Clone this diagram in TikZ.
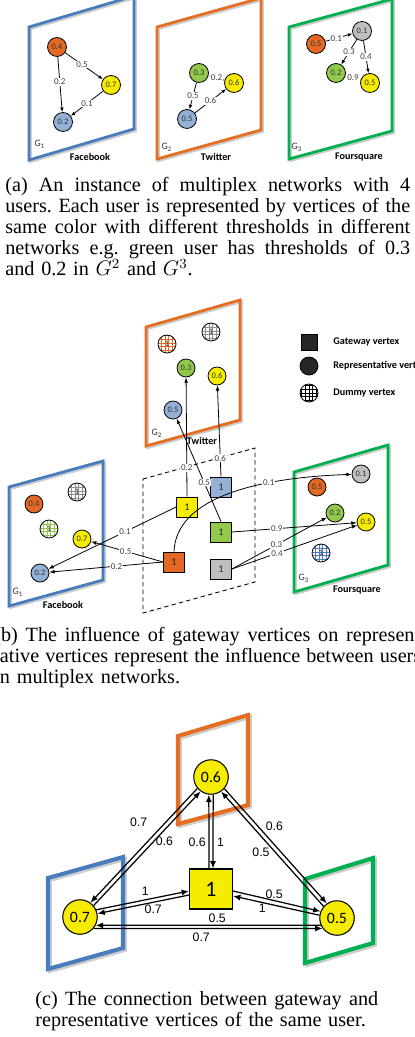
\documentclass[tikz,border=0pt]{standalone}
\usepackage{fontspec}
\setmainfont{Liberation Serif}
\newfontfamily\calibri{Carlito}
\newfontfamily\arialf{Liberation Sans}
\usetikzlibrary{arrows.meta,calc,positioning}

\definecolor{fbblue}{RGB}{72,124,188}
\definecolor{tworange}{RGB}{230,110,35}
\definecolor{fsgreen}{RGB}{0,176,80}
\definecolor{uorange}{RGB}{226,104,36}
\definecolor{uyellow}{RGB}{246,236,0}
\definecolor{ugreen}{RGB}{146,200,76}
\definecolor{ublue}{RGB}{147,177,214}
\definecolor{ugrey}{RGB}{191,191,191}

% one justified caption line of a given width
\newcommand{\jline}[2]{\leavevmode\hbox to #1{\spaceskip=0.25em plus 1fil\relax#2}}

\tikzset{
  layer/.style={draw=#1,line width=1.6pt,line join=miter,
    preaction={draw=black!20,line width=1.6pt,transform canvas={shift={(0.9pt,-0.9pt)}}}},
  biglayer/.style={draw=#1,line width=2.3pt,line join=miter,
    preaction={draw=black!20,line width=2.3pt,transform canvas={shift={(1.1pt,-1.1pt)}}}},
  gateplane/.style={draw,line width=0.5pt,dash pattern=on 2.5pt off 1.8pt},
  vtx/.style={circle,draw,fill=#1,line width=0.45pt,minimum size=0.38cm,inner sep=0pt,
    text=black!80,font=\fontsize{4.8}{5}\selectfont\calibri},
  svtx/.style={vtx=#1,minimum size=0.36cm},
  dummy/.style={circle,draw,fill=white,line width=0.45pt,minimum size=0.36cm,inner sep=0pt,
    text=black!80,font=\fontsize{4.8}{5}\selectfont\calibri,
    path picture={\draw[#1,line width=0.35pt] (path picture bounding box.south west)
      grid[step=2.1pt] (path picture bounding box.north east);}},
  gate/.style={rectangle,draw,fill=#1,line width=0.45pt,minimum width=0.42cm,
    minimum height=0.4cm,inner sep=0pt,text=black!85,font=\fontsize{5.8}{6}\selectfont\calibri},
  wlab/.style={fill=white,inner sep=0.5pt,text=black!75,font=\fontsize{5.1}{5.5}\selectfont\calibri},
  netname/.style={font=\fontsize{5.8}{6}\selectfont\calibri\bfseries},
  gname/.style={text=black!80,font=\fontsize{5.6}{6}\selectfont\calibri},
  keytxt/.style={anchor=west,inner sep=0pt,font=\fontsize{5.8}{6}\selectfont\calibri\bfseries},
  bigvtx/.style={circle,draw,fill=uyellow,line width=0.6pt,minimum size=0.69cm,inner sep=0pt,
    font=\fontsize{9}{10}\selectfont\calibri},
  biggate/.style={rectangle,draw,fill=uyellow,line width=0.6pt,minimum width=0.86cm,
    minimum height=0.8cm,inner sep=0pt,font=\fontsize{12.5}{13}\selectfont\calibri},
  clab/.style={inner sep=0pt,font=\fontsize{7}{8}\selectfont\arialf},
  capt/.style={anchor=north west,inner sep=0pt,align=left,
    font=\fontsize{11.5}{12}\selectfont\frenchspacing},
}

\begin{document}
\begin{tikzpicture}[x=0.02cm,y=-0.02cm]
  \useasboundingbox (0,0) rectangle (414,1037);
  \clip (0,0) rectangle (414,1037);

  % (a) the three networks
  \begin{scope}[>={Latex[length=2.6pt,width=2pt]},line width=0.45pt]
    \draw[layer=fbblue] (29,27) -- (134,-4) -- (134,129) -- (29,160) -- cycle;
    \node[vtx=uorange] (fbor) at (57,47) {0.4};
    \node[vtx=uyellow] (fbye) at (111,85) {0.7};
    \node[vtx=ublue] (fbbl) at (63,122) {0.2};
    \draw[->] (fbor) -- node[wlab,pos=.45]{0.5} (fbye);
    \draw[->] (fbor) -- node[wlab,pos=.45]{0.2} (fbbl);
    \draw[->] (fbye) -- node[wlab]{0.1} (fbbl);
    \node[gname] (ga1) at (40,144) {G\textsubscript{1}};
    \node[netname] (na1) at (90,157) {Facebook};

    \draw[layer=tworange] (157,27) -- (261,-2) -- (261,130) -- (157,159) -- cycle;
    \node[vtx=ugreen] (twgr) at (199,73) {0.3};
    \node[vtx=uyellow] (twye) at (234,83) {0.6};
    \node[vtx=ublue] (twbl) at (187,119) {0.5};
    \draw[->] (twye) -- node[wlab]{0.2} (twgr);
    \draw[->] (twgr) -- node[wlab]{0.5} (twbl);
    \draw[->] (twbl) -- node[wlab]{0.6} (twye);
    \node[gname] (ga2) at (167,147) {G\textsubscript{2}};
    \node[netname] (na2) at (216,157) {Twitter};

    \draw[layer=fsgreen] (289,27) -- (392,-1) -- (392,131) -- (289,159) -- cycle;
    \node[vtx=uorange] (fsor) at (316,44) {0.5};
    \node[vtx=ugrey] (fsgy) at (362,31) {0.1};
    \node[vtx=ugreen] (fsgr) at (336,73) {0.2};
    \node[vtx=uyellow] (fsye) at (370,83) {0.5};
    \draw[->] (fsor) -- node[wlab,pos=.4]{0.1} (fsgy);
    \draw[->] (fsgy) -- node[wlab]{0.3} (fsgr);
    \draw[->] (fsgy) -- node[wlab]{0.4} (fsye);
    \draw[->] (fsye) -- node[wlab]{0.9} (fsgr);
    \node[gname] (ga3) at (297,147) {G\textsubscript{3}};
    \node[netname] (na3) at (359,157) {Foursquare};
  \end{scope}

  \node[capt,text width=8.1cm] (capa) at (5,177)
    {\jline{8.1cm}{(a) An instance of multiplex networks with 4}\\
     \jline{8.1cm}{users. Each user is represented by vertices of the}\\
     \jline{8.1cm}{same color with different thresholds in different}\\
     \jline{8.1cm}{networks e.g. green user has thresholds of 0.3}\\
     and 0.2 in $G^2$ and $G^3$.};

  % (b) gateway vertices between the networks
  \begin{scope}[>={Latex[length=3pt,width=2.2pt]},line width=0.45pt]
    \draw[layer=tworange] (146,327) -- (240,300) -- (240,420) -- (146,446) -- cycle;
    \draw[layer=fbblue] (9,487) -- (103,461) -- (103,580) -- (9,606) -- cycle;
    \draw[layer=fsgreen] (294,472) -- (388,445) -- (388,565) -- (294,592) -- cycle;
    \draw[gateplane] (143,479) -- (255,448) -- (255,582) -- (143,613) -- cycle;

    \node[dummy=uorange] (btwdo) at (167,344) {1};
    \node[dummy=black!45] (btwdg) at (211,332) {1};
    \node[svtx=ugreen] (btwgr) at (186,368) {0.3};
    \node[svtx=uyellow] (btwye) at (217,376) {0.6};
    \node[svtx=ublue] (btwbl) at (173,410) {0.5};
    \node[gname] (gb2) at (157,433) {G\textsubscript{2}};
    \node[netname] (nb2) at (202,441) {Twitter};

    \node[svtx=uorange] (bfbor) at (34,504) {0.4};
    \node[dummy=black!45] (bfbdg) at (77,492) {1};
    \node[dummy=ugreen] (bfbdr) at (49,529) {1};
    \node[svtx=uyellow] (bfbye) at (82,539) {0.7};
    \node[svtx=ublue] (bfbbl) at (40,573) {0.2};
    \node[gname] (gb1) at (18,592) {G\textsubscript{1}};
    \node[netname] (nb1) at (63,605) {Facebook};

    \node[svtx=ugrey] (bfsgy) at (361,474) {0.1};
    \node[svtx=uorange] (bfsor) at (317,487) {0.5};
    \node[svtx=ugreen] (bfsgr) at (335,513) {0.2};
    \node[svtx=uyellow] (bfsye) at (366,522) {0.5};
    \node[dummy=fbblue] (bfsdb) at (321,553) {1};
    \node[gname] (gb3) at (304,578) {G\textsubscript{3}};
    \node[netname] (nb3) at (357,590) {Foursquare};

    \node[gate=ublue] (gbl) at (221,487) {1};
    \node[gate=uyellow] (gye) at (187,507) {1};
    \node[gate=ugreen] (ggr) at (221,532) {1};
    \node[gate=uorange] (gor) at (174,562) {1};
    \node[gate=ugrey] (ggy) at (221,569) {1};

    \draw[->] (gye.west) -- node[wlab,pos=.4]{0.1} (bfbbl);
    \draw[->] (gor.west) -- node[wlab,pos=.52]{0.5} (bfbye);
    \draw[->] (gor.west) -- node[wlab,pos=.41]{0.2} (bfbbl);
    \draw[->] (gor.north) .. controls (176,500) and (250,478) .. node[wlab,pos=.7]{0.1} (bfsgy);
    \draw[->] (ggr.east) -- node[wlab,pos=.36]{0.9} (bfsye);
    \draw[->] (ggy.east) -- node[wlab,pos=.47]{0.3} (bfsgr);
    \draw[->] (ggy.east) -- node[wlab,pos=.36]{0.4} (bfsye);
    \draw[->] (gbl.north) -- node[wlab,pos=.2]{0.6} (btwye);
    \draw[->] (gye.north) -- node[wlab,pos=.24]{0.2} (btwgr);
    \draw[->] (ggr.north) -- node[wlab,pos=.38]{0.5} (btwbl);

    % key
    \node[gate=black!85,minimum width=0.32cm,minimum height=0.32cm] (keygate) at (309,342) {};
    \node[keytxt] (keygatet) at (333,342) {Gateway vertex};
    \node[svtx=black!85] (keyrep) at (309,366) {};
    \node[keytxt] (keyrept) at (333,366) {Representative vertex};
    \node[dummy=black] (keydum) at (309,393) {};
    \node[keytxt] (keydumt) at (333,393) {Dummy vertex};
  \end{scope}

  \node[capt,text width=8.54cm] (capb) at (-6,627)
    {\jline{8.54cm}{(b) The influence of gateway vertices on represen-}\\
     \jline{8.54cm}{tative vertices represent the influence between users}\\
     in multiplex networks.};

  % (c) one user: gateway and representatives
  \draw[biglayer=tworange] (178,736) -- (248,715) -- (248,805) -- (178,824) -- cycle;
  \draw[biglayer=fbblue] (48,878) -- (123,857) -- (123,948) -- (48,969) -- cycle;
  \draw[biglayer=fsgreen] (305,879) -- (373,858) -- (373,943) -- (305,963) -- cycle;
  \node[bigvtx] (ctw) at (211,777) {0.6};
  \node[bigvtx] (cfb) at (80,917) {0.7};
  \node[bigvtx] (cfs) at (337,918) {0.5};
  \node[biggate] (cgate) at (211,889) {1};

  \begin{scope}[>={Latex[length=4.2pt,width=3.4pt]},line width=0.7pt]
    \draw[->] (ctw.220) -- node[clab,pos=.3,left=10pt]{0.7} (cfb.54);
    \draw[->] (cfb.40) -- node[clab,pos=.56,right=1pt]{0.6} (ctw.234);
    \draw[->] ($(cgate.north)+(-2,0)$) -- node[clab,pos=.36,left=1.5pt]{0.6} (ctw.263);
    \draw[->] (ctw.277) -- node[clab,pos=.64,right=2pt]{1} ($(cgate.north)+(2,0)$);
    \draw[->] (ctw.319) -- node[clab,pos=.33,right=4pt]{0.6} (cfs.125);
    \draw[->] (cfs.139) -- node[clab,pos=.47,left=3pt]{0.5} (ctw.305);
    \draw[->] (cfb.24) -- node[clab,pos=.53,above=2pt]{1} ($(cgate.west)+(0,2)$);
    \draw[->] ($(cgate.west)+(0,6)$) -- node[clab,pos=.39,below=1pt]{0.7} (cfb.11);
    \draw[->] ($(cgate.east)+(0,2)$) -- node[clab,pos=.47,above=0.5pt]{0.5} (cfs.158);
    \draw[->] (cfs.171) -- node[clab,pos=.66,below=0.5pt]{1} ($(cgate.east)+(0,7)$);
    \draw[->] (cfs.204) -- node[clab,pos=.46,above=1pt]{0.5} (cfb.332);
    \draw[->] (cfb.320) -- node[clab,pos=.47,below=2pt]{0.7} (cfs.216);
  \end{scope}

  \node[capt,text width=6.86cm] (capc) at (35,991)
    {\jline{6.86cm}{(c) The connection between gateway and}\\
     representative vertices of the same user.};
\end{tikzpicture}
\end{document}
